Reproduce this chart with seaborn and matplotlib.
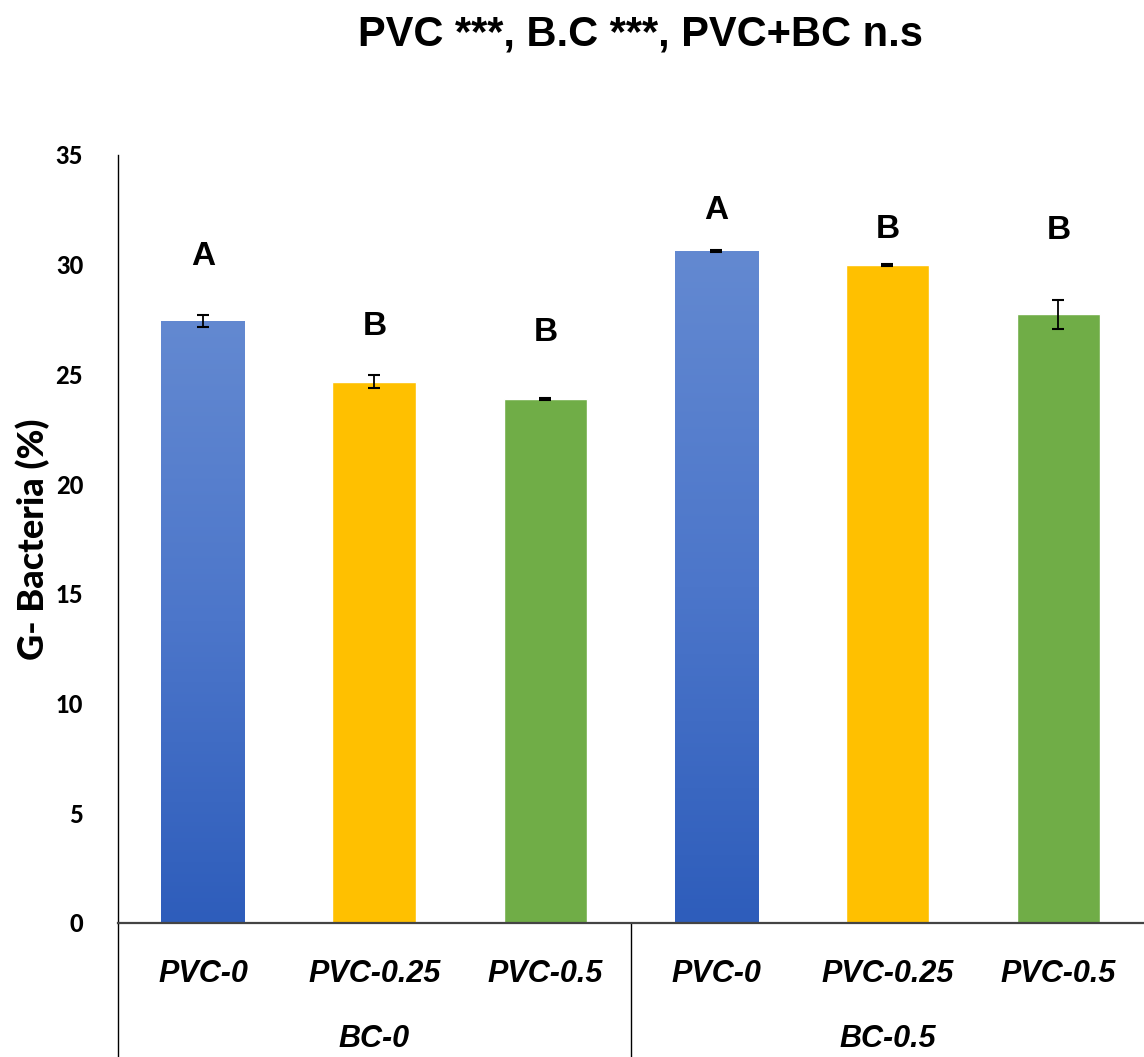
import numpy as np
import pandas as pd
import matplotlib
matplotlib.use("Agg")
import matplotlib.pyplot as plt
import seaborn as sns
from matplotlib.colors import LinearSegmentedColormap

# ---- data ----
groups = ["BC-0", "BC-0", "BC-0", "BC-0.5", "BC-0.5", "BC-0.5"]
treatments = ["PVC-0", "PVC-0.25", "PVC-0.5", "PVC-0", "PVC-0.25", "PVC-0.5"]
values = [27.44, 24.67, 23.88, 30.62, 29.98, 27.74]
errors = [0.27, 0.3, 0.05, 0.05, 0.05, 0.66]
letters = ["A", "B", "B", "A", "B", "B"]
letter_y = [30.35, 27.2, 26.9, 32.45, 31.6, 31.55]
group_names = ["BC-0", "BC-0.5"]
title = "PVC ***, B.C ***, PVC+BC n.s"
ylabel = "G- Bacteria (%)"
yticks = [0, 5, 10, 15, 20, 25, 30, 35]

colors = {"PVC-0": "#4472C4", "PVC-0.25": "#FFC000", "PVC-0.5": "#70AD47"}

sns.set_theme(style="white")
plt.rcParams['font.family'] = ['Liberation Sans', 'DejaVu Sans']
plt.rcParams['text.color'] = 'black'
plt.rcParams['axes.labelcolor'] = 'black'
plt.rcParams['ytick.color'] = 'black'

df = pd.DataFrame({"pos": [str(i) for i in range(len(values))],
                   "treatment": treatments, "value": values})

fig = plt.figure(figsize=(11.44, 10.57), dpi=100)
ax = fig.add_axes([0.103, 0.1268, 0.897, 0.7266])

sns.barplot(data=df, x="pos", y="value", hue="treatment",
            palette=colors, dodge=False, width=0.49, ax=ax,
            legend=False, errorbar=None, saturation=1)

# vertical gradient for the blue bars
blue_cmap = LinearSegmentedColormap.from_list("bg", ["#2E5DBB", "#4C76CA", "#6389D1"])
for patch in list(ax.patches):
    fc = patch.get_facecolor()
    if abs(fc[0] - 0x44/255) < 0.02 and abs(fc[2] - 0xC4/255) < 0.02:
        x0, y0 = patch.get_x(), patch.get_y()
        w, h = patch.get_width(), patch.get_height()
        grad = np.linspace(0, 1, 256).reshape(-1, 1)
        im = ax.imshow(grad, extent=[x0, x0 + w, y0, y0 + h], origin="lower",
                       cmap=blue_cmap, aspect="auto", zorder=patch.get_zorder() + 0.1)
        im.set_clip_path(patch)

xs = np.arange(len(values))
ax.errorbar(xs, values, yerr=errors, fmt="none", ecolor="black",
            elinewidth=1.3, capsize=4, capthick=1.5, zorder=5)

for x, ly, lt in zip(xs, letter_y, letters):
    ax.text(x, ly, lt, ha="center", va="center", fontsize=24,
            fontweight="bold", color="black")

ax.set_xlim(-0.5, 5.5)
ax.set_ylim(0, 35)
ax.set_yticks(yticks)
ax.set_yticklabels([str(t) for t in yticks], fontsize=17, fontweight=900,
                   family=["Lato", "DejaVu Sans"])
ax.tick_params(axis="y", length=0, pad=25)
ax.set_xticks([])
ax.set_xlabel("")
ax.set_ylabel(ylabel, fontsize=26, fontweight=900, family=["Lato", "DejaVu Sans"])
ax.yaxis.set_label_coords(-0.066, 0.5)

for s in ["top", "right"]:
    ax.spines[s].set_visible(False)
ax.spines["left"].set_color("black")
ax.spines["left"].set_linewidth(1.0)
ax.spines["bottom"].set_color("#444444")
ax.spines["bottom"].set_linewidth(1.6)

# category labels below axis
trans = ax.get_xaxis_transform()
for x, t in zip(xs, treatments):
    ax.text(x, -0.0768, t, transform=trans, ha="center", va="baseline",
            fontsize=22, fontweight="bold", style="italic", clip_on=False)
for gi, g in enumerate(group_names):
    ax.text(gi * 3 + 1, -0.1615, g, transform=trans, ha="center", va="baseline",
            fontsize=22, fontweight="bold", style="italic", clip_on=False)

# vertical divider lines below axis
ax.plot([-0.5, -0.5], [0, -0.175], transform=trans, color="black", lw=1.0, clip_on=False)
ax.plot([2.5, 2.5], [0, -0.175], transform=trans, color="black", lw=1.0, clip_on=False)

fig.text(0.5595, 1 - 45 / 1057, title, ha="center", va="baseline",
         fontsize=30, fontweight="bold")

fig.savefig("out.png", dpi=100, facecolor="white")
